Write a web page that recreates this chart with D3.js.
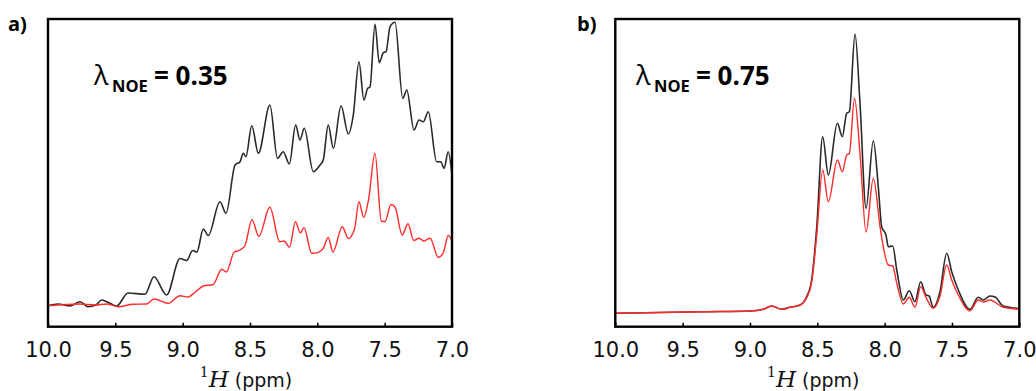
<!DOCTYPE html>
<html>
<head>
<meta charset="utf-8">
<script src="https://cdn.jsdelivr.net/npm/d3@7"></script>
<style>
  html, body { margin: 0; padding: 0; background: #fff; }
  svg { display: block; }
</style>
</head>
<body>
<svg id="chart" width="1036" height="391"></svg>
<script>
// ---------------- DATA (ppm, intensity in arbitrary units) ----------------
const xTicks = [10.0, 9.5, 9.0, 8.5, 8.0, 7.5, 7.0];
const panelLabels = ["a)", "b)"];
const lambdaValues = ["0.35", "0.75"];

// Panel a, black spectrum
const specA_black = [
  [10.0,21],[9.926,22.7],[9.837,20.7],[9.762,25],[9.703,20],[9.644,21.7],[9.601,26.7],[9.540,23.4],
  [9.490,20.7],[9.406,33.7],[9.280,32.4],[9.213,50],[9.119,31.7],[9.020,68.2],[8.970,66.2],
  [8.926,76.2],[8.894,74.7],[8.847,97.7],[8.810,91.2],[8.723,125],[8.678,113.4],[8.611,161.7],
  [8.574,165],[8.550,173.4],[8.530,170],[8.487,201],[8.438,173.4],[8.352,221.7],[8.296,168.4],
  [8.253,175],[8.208,162.7],[8.161,201.7],[8.129,186.7],[8.097,198.4],[8.030,155],[7.980,161.7],
  [7.956,166.7],[7.919,201.7],[7.881,178.4],[7.824,221],[7.770,192.7],[7.733,211.7],[7.691,265],
  [7.654,226.7],[7.626,238.4],[7.609,239.7],[7.572,302.4],[7.540,264],[7.510,274],[7.490,275],
  [7.460,300],[7.423,304.4],[7.366,228.4],[7.336,236.7],[7.282,196.7],[7.245,206.7],[7.213,205],
  [7.176,215],[7.114,165],[7.084,165],[7.059,158.4],[7.028,175],[7.000,151.7]
];
// Panel a, red spectrum
const specA_red = [
  [10.0,21],[9.762,22.7],[9.651,21.7],[9.564,22.7],[9.478,20],[9.369,22.4],[9.267,22.7],[9.213,27.7],
  [9.107,23.4],[9.020,31],[8.960,29.7],[8.908,34.4],[8.847,40.7],[8.773,42.2],[8.710,57.5],
  [8.676,54.7],[8.617,74.7],[8.574,76.7],[8.537,81.2],[8.485,107],[8.435,90.4],[8.352,119.4],
  [8.280,85],[8.248,85.7],[8.206,79.5],[8.163,105],[8.126,93.7],[8.099,99],[8.042,73.4],
  [7.993,74.4],[7.956,78.4],[7.919,89.2],[7.884,74.7],[7.815,100],[7.770,88.2],[7.724,97.7],
  [7.691,125],[7.656,109.4],[7.619,127.7],[7.572,173.4],[7.525,105.7],[7.498,105],[7.453,122.2],
  [7.423,119.7],[7.370,91.7],[7.327,102.9],[7.284,86.2],[7.245,88.4],[7.208,85.7],[7.163,88.4],
  [7.102,69.5],[7.065,73.7],[7.028,91.2],[7.000,85.7]
];
// Panel b, black spectrum
const specB_black = [
  [10.0,13.4],[9.668,14.2],[9.349,15],[9.000,15.7],[8.901,17.4],[8.839,20.7],[8.764,17.4],
  [8.703,19.4],[8.628,21.7],[8.579,30],[8.542,46.7],[8.504,100],[8.460,190],[8.418,151.7],
  [8.351,203.4],[8.314,190],[8.282,213.4],[8.262,215],[8.220,292.7],[8.183,223.4],[8.138,118.4],
  [8.084,186],[8.047,140],[8.022,100],[7.990,91.7],[7.973,80],[7.940,80.7],[7.910,56.7],
  [7.861,26.7],[7.817,36],[7.775,25],[7.732,45],[7.693,31.7],[7.670,30.7],[7.639,19.4],
  [7.589,35],[7.539,73.4],[7.502,55],[7.453,36.7],[7.366,17.4],[7.305,29.4],[7.267,26.7],
  [7.218,30.7],[7.180,29.7],[7.119,20.7],[7.000,18.2]
];
// Panel b, red spectrum
const specB_red = [
  [10.0,13.4],[9.668,14.2],[9.349,15],[9.000,15.7],[8.901,17.4],[8.839,20.7],[8.764,17.4],
  [8.703,19.4],[8.628,21.7],[8.579,29],[8.542,44],[8.504,92],[8.460,156.7],[8.418,125],
  [8.351,166.7],[8.314,155],[8.282,171.7],[8.262,173.2],[8.224,228.4],[8.183,173.4],[8.138,94.7],
  [8.084,148.4],[8.034,100],[8.010,80],[7.973,61.7],[7.940,60.7],[7.910,43.4],[7.861,22.7],
  [7.817,29.4],[7.775,19.4],[7.732,40],[7.693,29.4],[7.639,18.4],[7.589,30.7],[7.539,61.7],
  [7.502,46.7],[7.453,31.7],[7.366,16],[7.305,26.7],[7.267,24.7],[7.218,26.7],[7.119,19.4],
  [7.000,17.4]
];

// ---------------- LAYOUT ----------------
const svg = d3.select("#chart");
const plotTop = 19, plotBottom = 326.7;
const panels = [
  { left: 48, right: 452, label: panelLabels[0], labelX: 8, lam: lambdaValues[0], lamX: 94,
    series: [specA_black, specA_red] },
  { left: 615.3, right: 1019.3, label: panelLabels[1], labelX: 577, lam: lambdaValues[1], lamX: 636,
    series: [specB_black, specB_red] }
];
const colors = ["#2a2a2a", "#ff2b2b"];
const widths = [1.6, 1.4];

panels.forEach(p => {
  const x = d3.scaleLinear().domain([10, 7]).range([p.left, p.right]);
  const y = d3.scaleLinear().domain([0, 307.7]).range([plotBottom, plotTop]);
  const g = svg.append("g");

  const line = d3.line()
    .x(d => x(d[0])).y(d => y(d[1]))
    .curve(d3.curveMonotoneX);

  p.series.forEach((s, i) => {
    g.append("path").datum(s)
      .attr("d", line)
      .attr("fill", "none")
      .attr("stroke", colors[i])
      .attr("stroke-width", widths[i])
      .attr("stroke-linejoin", "round");
  });

  // frame
  g.append("rect")
    .attr("x", p.left).attr("y", plotTop)
    .attr("width", p.right - p.left).attr("height", plotBottom - plotTop)
    .attr("fill", "none").attr("stroke", "#000").attr("stroke-width", 2.4);

  // x axis
  const ax = g.append("g").attr("transform", `translate(0,${plotBottom})`)
    .call(d3.axisBottom(x).tickValues(xTicks).tickFormat(d3.format(".1f"))
      .tickSizeInner(-4).tickSizeOuter(0));
  ax.select(".domain").remove();
  ax.selectAll(".tick line").attr("stroke", "#000").attr("stroke-width", 1.5);
  ax.selectAll(".tick text")
    .attr("y", 30).attr("dy", 0)
    .attr("fill", "#111")
    .style("font-family", "'DejaVu Sans', sans-serif")
    .style("font-size", "21px");

  // x axis label: ¹H (ppm)
  const cx = (p.left + p.right) / 2 - 4;
  const lab = g.append("text").attr("x", cx).attr("y", 387)
    .attr("text-anchor", "middle").attr("fill", "#111");
  lab.append("tspan").text("1")
    .style("font-family", "'DejaVu Serif', serif").style("font-size", "14px")
    .attr("dy", -10);
  lab.append("tspan").text("H")
    .style("font-family", "'DejaVu Serif', serif").style("font-style", "italic")
    .style("font-size", "23px").attr("dy", 10);
  lab.append("tspan").text(" (ppm)")
    .style("font-family", "'DejaVu Sans', sans-serif").style("font-size", "19px");

  // panel label
  g.append("text").attr("x", p.labelX).attr("y", 31)
    .text(p.label)
    .style("font-family", "'Open Sans', sans-serif").style("font-weight", 700)
    .style("font-size", "20px").attr("fill", "#000");

  // lambda annotation
  g.append("text").attr("x", p.lamX).attr("y", 85).text("λ")
    .style("font-family", "'Open Sans', sans-serif").style("font-size", "27px").attr("fill", "#000");
  g.append("text").attr("x", p.lamX + 18).attr("y", 92).text("NOE")
    .style("font-family", "'Open Sans', sans-serif").style("font-weight", 700)
    .style("font-size", "16.5px").attr("fill", "#000");
  g.append("text").attr("x", p.lamX + 60).attr("y", 85).text("= " + p.lam)
    .style("font-family", "'Open Sans', sans-serif").style("font-weight", 700)
    .style("font-size", "26px").attr("fill", "#000");
});
</script>
</body>
</html>
